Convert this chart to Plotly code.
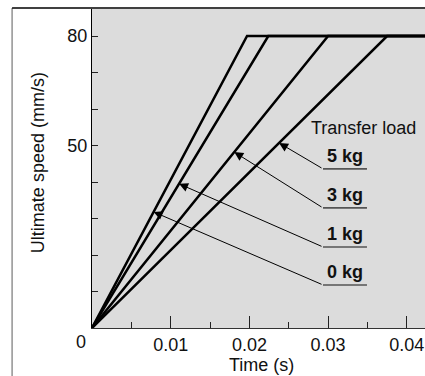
import plotly.graph_objects as go

# transfer load vs. time needed to reach the ultimate speed
loads = ["0 kg", "1 kg", "3 kg", "5 kg"]
time_to_max = [0.0197, 0.0224, 0.0300, 0.0375]
max_speed = 80
time_end = 0.05

# speed at which each label arrow meets its line
arrow_speed = [31.8, 39.5, 48.2, 50.7]

x_ticks = [0.01, 0.02, 0.03, 0.04]
x_ticktext = ["0.01", "0.02", "0.03", "0.04"]
y_ticks = [50, 80]
y_ticktext = ["50", "80"]

FONT = "Liberation Sans, Arial, Helvetica, sans-serif"
BG = "#dcdcdc"

fig = go.Figure()

for load, t in zip(loads, time_to_max):
    fig.add_trace(go.Scatter(
        x=[0, t, time_end],
        y=[0, max_speed, max_speed],
        mode="lines",
        name=load,
        line=dict(color="black", width=2.5),
        showlegend=False,
        hoverinfo="skip",
    ))

# label positions (data units), one per load, bottom to top
label_x0, label_x1 = 0.02935, 0.03494
label_y = [11.8, 22.2, 32.9, 43.6]

annotations = []
shapes = []
for load, t, s, ly in zip(loads, time_to_max, arrow_speed, label_y):
    annotations.append(dict(
        x=t * s / max_speed, y=s, xref="x", yref="y",
        ax=label_x0, ay=ly, axref="x", ayref="y",
        text="", showarrow=True, arrowhead=2, arrowsize=1.8,
        arrowwidth=1, arrowcolor="black", standoff=0,
    ))
    shapes.append(dict(
        type="line", xref="x", yref="y",
        x0=label_x0, x1=label_x1, y0=ly, y1=ly,
        line=dict(color="#555555", width=1.6),
    ))
    annotations.append(dict(
        x=(label_x0 + label_x1) / 2, y=ly, xref="x", yref="y",
        text="<b>%s</b>" % load, showarrow=False,
        yanchor="bottom", yshift=1,
        font=dict(family=FONT, size=18, color="#111111"),
    ))

annotations.append(dict(
    x=0.03444, y=54.8, xref="x", yref="y", text="Transfer load",
    showarrow=False, font=dict(family=FONT, size=18, color="#111111"),
))
annotations.append(dict(
    x=0, y=0, xref="x", yref="y", text="0", showarrow=False,
    xshift=-11, yshift=-14, font=dict(family=FONT, size=18, color="#111111"),
))
annotations.append(dict(
    x=0.51, y=-0.116, xref="paper", yref="paper", text="Time (s)",
    showarrow=False, yanchor="middle",
    font=dict(family=FONT, size=18, color="#111111"),
))
annotations.append(dict(
    x=-0.162, y=0.517, xref="paper", yref="paper",
    text="Ultimate speed (mm/s)", textangle=-90, showarrow=False,
    xanchor="center", yanchor="middle",
    font=dict(family=FONT, size=18, color="#111111"),
))

# outer frame: grey left edge, black top edge
shapes.append(dict(type="line", xref="paper", yref="paper",
                   x0=-0.24, x1=-0.24, y0=1.003, y1=-0.2,
                   line=dict(color="#777777", width=1.2)))
shapes.append(dict(type="line", xref="paper", yref="paper",
                   x0=-0.24, x1=1.0, y0=1.003, y1=1.003,
                   line=dict(color="black", width=1.5)))

fig.update_layout(
    width=425, height=376,
    margin=dict(l=92, r=0, t=9, b=48),
    paper_bgcolor="white", plot_bgcolor=BG,
    font=dict(family=FONT, size=18, color="#111111"),
    annotations=annotations, shapes=shapes,
)
fig.update_xaxes(
    range=[0, 0.04231], showgrid=False, zeroline=False,
    showline=True, linecolor="#333333", linewidth=1,
    tickmode="array", tickvals=x_ticks, ticktext=x_ticktext,
    ticks="inside", ticklen=12, tickcolor="#222222", tickwidth=1,
    minor=dict(tickmode="linear", tick0=0, dtick=0.005, ticks="inside",
               ticklen=6, tickcolor="#222222", showgrid=False),
    tickfont=dict(family=FONT, size=18, color="#111111"),
)
fig.update_yaxes(
    range=[0, 87.4], showgrid=False, zeroline=False,
    showline=True, linecolor="black", linewidth=1,
    tickmode="array", tickvals=y_ticks, ticktext=y_ticktext,
    ticks="inside", ticklen=6, tickcolor="#222222", tickwidth=1,
    minor=dict(tickmode="linear", tick0=0, dtick=10, ticks="inside",
               ticklen=6, tickcolor="#222222", showgrid=False),
    tickfont=dict(family=FONT, size=18, color="#111111"),
)

fig.write_html(
    "out.html",
    config={"displayModeBar": False},
    post_script="document.body.style.margin='0';"
                "document.body.style.overflow='hidden';",
)
